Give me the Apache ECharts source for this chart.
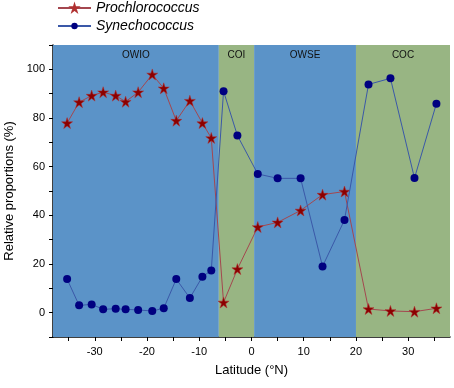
<!DOCTYPE html>
<html><head><meta charset="utf-8">
<script src="https://cdn.jsdelivr.net/npm/echarts@6/dist/echarts.min.js"></script>
<style>html,body{margin:0;padding:0;background:#fff}#c{width:454px;height:388px}</style>
</head><body><div id="c"></div>
<script>
const latitudes = [-35.3, -33.0, -30.6, -28.4, -26.0, -24.1, -21.7, -19.0, -16.8, -14.4, -11.8, -9.4, -7.7, -5.35, -2.7, 1.2, 5.0, 9.4, 13.6, 17.8, 22.4, 26.6, 31.2, 35.4];
const prochlorococcus = [77.9, 86.5, 89.2, 90.6, 89.2, 86.7, 90.6, 97.9, 92.2, 78.9, 87.1, 77.9, 71.8, 4.2, 17.9, 35.2, 37.1, 42.0, 48.5, 49.8, 1.5, 0.7, 0.4, 1.8];
const synechococcus = [13.8, 3.0, 3.4, 1.4, 1.6, 1.4, 1.1, 0.7, 1.8, 13.8, 6.0, 14.8, 17.3, 91.0, 72.8, 57.0, 55.2, 55.2, 19.0, 38.1, 93.8, 96.3, 55.3, 85.9];
const regionNames = ['OWIO', 'COI', 'OWSE', 'COC'];
const regionStarts = [-38, -6.25, 0.5, 20];
const regionEnds = [-6.25, 0.5, 20, 38];
const regionColors = ['#5b93c8', '#98b583', '#5b93c8', '#98b583'];
const xTicks = [-35, -30, -25, -20, -15, -10, -5, 0, 5, 10, 15, 20, 25, 30, 35];
const xLabels = [-30, -20, -10, 0, 10, 20, 30];

const chart = echarts.init(document.getElementById('c'));
const font = 'Liberation Sans, Arial, sans-serif';
const starPath = 'path://M50,0 L61.8,36.2 L100,36.2 L69.1,58.6 L80.9,95.1 L50,72.7 L19.1,95.1 L30.9,58.6 L0,36.2 L38.2,36.2 Z';
chart.setOption({
  animation: false,
  textStyle: { fontFamily: font },
  grid: { left: 53, right: 4, top: 45, bottom: 51, containLabel: false, outerBoundsMode: 'none' },
  legend: {
    orient: 'vertical', left: 57, top: 1, padding: 0, itemGap: 4, itemWidth: 33, itemHeight: 8,
    textStyle: { fontSize: 14, fontStyle: 'italic', color: '#000', fontFamily: font },
    data: ['Prochlorococcus', 'Synechococcus']
  },
  xAxis: {
    type: 'value', min: -38, max: 38,
    name: 'Latitude (°N)', nameLocation: 'middle', nameGap: 27,
    nameTextStyle: { fontSize: 13, color: '#000' },
    axisLine: { show: true, onZero: false, lineStyle: { color: '#000', width: 1.5 } },
    axisTick: { show: true, inside: false, length: 4, customValues: xTicks, lineStyle: { color: '#000' } },
    axisLabel: { customValues: xLabels, fontSize: 11, color: '#000', margin: 9 },
    splitLine: { show: false }
  },
  yAxis: {
    type: 'value', min: -10, max: 110, interval: 10,
    name: 'Relative proportions (%)', nameLocation: 'middle', nameGap: 29,
    nameTextStyle: { fontSize: 13, color: '#000' },
    axisLine: { show: true, onZero: false, lineStyle: { color: '#000', width: 1.5 } },
    axisTick: { show: true, inside: false, length: 4, lineStyle: { color: '#000' } },
    axisLabel: { fontSize: 11, color: '#000', margin: 8,
      formatter: v => (v >= 0 && v <= 100 && v % 20 === 0) ? String(v) : '' },
    splitLine: { show: false }
  },
  series: [
    {
      type: 'line', name: 'regions', data: [], z: 1, silent: true,
      markArea: {
        silent: true,
        label: { show: true, position: 'insideTop', distance: 5, fontSize: 10, color: '#111', fontFamily: font },
        data: regionNames.map((n, i) => [
          { name: n, xAxis: regionStarts[i], yAxis: -10, itemStyle: { color: regionColors[i], opacity: 1 } },
          { xAxis: regionEnds[i], yAxis: 110 }
        ])
      }
    },
    {
      type: 'line', name: 'Prochlorococcus', z: 3,
      data: latitudes.map((x, i) => [x, prochlorococcus[i]]),
      symbol: starPath,
      symbolSize: 11,
      lineStyle: { color: '#a4474f', width: 1 },
      itemStyle: { color: '#8b0000', borderColor: '#b03030', borderWidth: 0.5 }
    },
    {
      type: 'line', name: 'Synechococcus', z: 4,
      data: latitudes.map((x, i) => [x, synechococcus[i]]),
      symbol: 'circle', symbolSize: 8,
      lineStyle: { color: '#3a58a8', width: 1 },
      itemStyle: { color: '#000080', borderColor: '#000080', borderWidth: 0 }
    }
  ]
});
</script></body></html>
